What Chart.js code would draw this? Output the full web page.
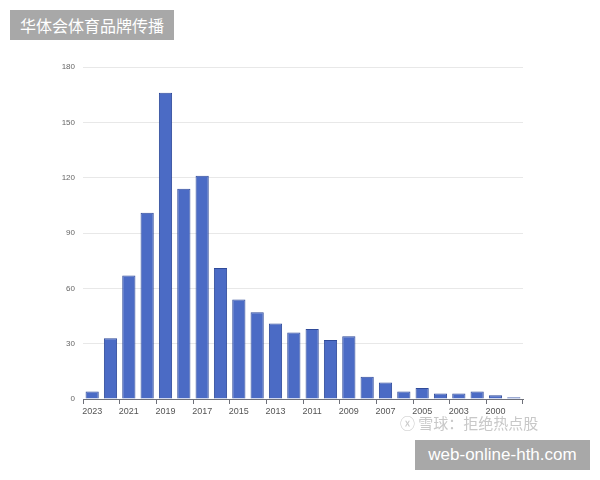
<!DOCTYPE html>
<html>
<head>
<meta charset="utf-8">
<script src="https://cdn.jsdelivr.net/npm/chart.js@4/dist/chart.umd.min.js"></script>
<style>
    html, body { margin: 0; padding: 0; background: #fff; }
    #wrap { position: relative; width: 600px; height: 480px; }
    .tag {
        position: absolute;
        background: #a8a8a8;
        color: #fff;
        font-family: "Noto Sans CJK SC", "Noto Sans", sans-serif;
        line-height: 30px;
        text-align: center;
    }
    #mark {
        position: absolute;
        left: 400px; top: 412px;
        color: #c8c8c8;
        font-family: "Noto Sans CJK SC", sans-serif;
        font-size: 15px;
    }
</style>
</head>
<body>
<div id="wrap">
    <canvas id="chart" width="600" height="480"></canvas>
    <div class="tag" style="left:10px; top:10px; width:164px; height:30px; font-size:16px;">华体会体育品牌传播</div>
    <div id="mark">ⓧ 雪球：拒绝热点股</div>
    <div class="tag" style="left:415px; top:440px; width:175px; height:30px; font-size:17px; font-family:'Liberation Sans', sans-serif;">web-online-hth.com</div>
</div>
<script>
// Years, newest first
const years = ['2023', '2022', '2021', '2020', '2019', '2018', '2017', '2016', '2015', '2014', '2013', '2012',
               '2011', '2010', '2009', '2008', '2007', '2006', '2005', '2004', '2003', '2002', '2000', '1999'];
// Count per year
const counts = [4, 33, 67, 101, 166, 114, 121, 71, 54, 47, 41, 36,
                38, 32, 34, 12, 9, 4, 6, 3, 3, 4, 2, 1];
const yTicks = [0, 30, 60, 90, 120, 150, 180];

const ctx = document.getElementById('chart').getContext('2d');
new Chart(ctx, {
    type: 'bar',
    data: {
        labels: years,
        datasets: [{
            data: counts,
            backgroundColor: '#4b6bc5',
            borderColor: '#2f4a99',
            borderWidth: 1,
            categoryPercentage: 1,
            barPercentage: 0.72
        }]
    },
    options: {
        responsive: false,
        animation: false,
        layout: { padding: { left: 0, right: 77, top: 67, bottom: 56 } },
        plugins: { legend: { display: false }, tooltip: { enabled: false } },
        scales: {
            x: {
                offset: true,
                afterFit: s => { s.height = 25; },
                border: { display: true, color: '#6e7079', width: 1 },
                grid: {
                    offset: true,
                    drawOnChartArea: false,
                    drawTicks: true,
                    tickLength: 5,
                    tickColor: c => (c.index === undefined || c.index % 2 === 0) ? '#6e7079' : 'rgba(0,0,0,0)'
                },
                ticks: {
                    autoSkip: false,
                    maxRotation: 0,
                    padding: 2,
                    color: '#555',
                    font: { family: 'Liberation Sans', size: 9 },
                    callback: (v, i) => i % 2 === 0 ? years[i] : ''
                }
            },
            y: {
                min: 0,
                max: 180,
                afterFit: s => { s.width = 83; },
                afterBuildTicks: s => { s.ticks = yTicks.map(v => ({ value: v })); },
                border: { display: false },
                grid: { color: '#e8e8e8', drawTicks: false },
                ticks: {
                    padding: 8,
                    color: '#666',
                    font: { family: 'Liberation Sans', size: 8 }
                }
            }
        }
    }
});
</script>
</body>
</html>
